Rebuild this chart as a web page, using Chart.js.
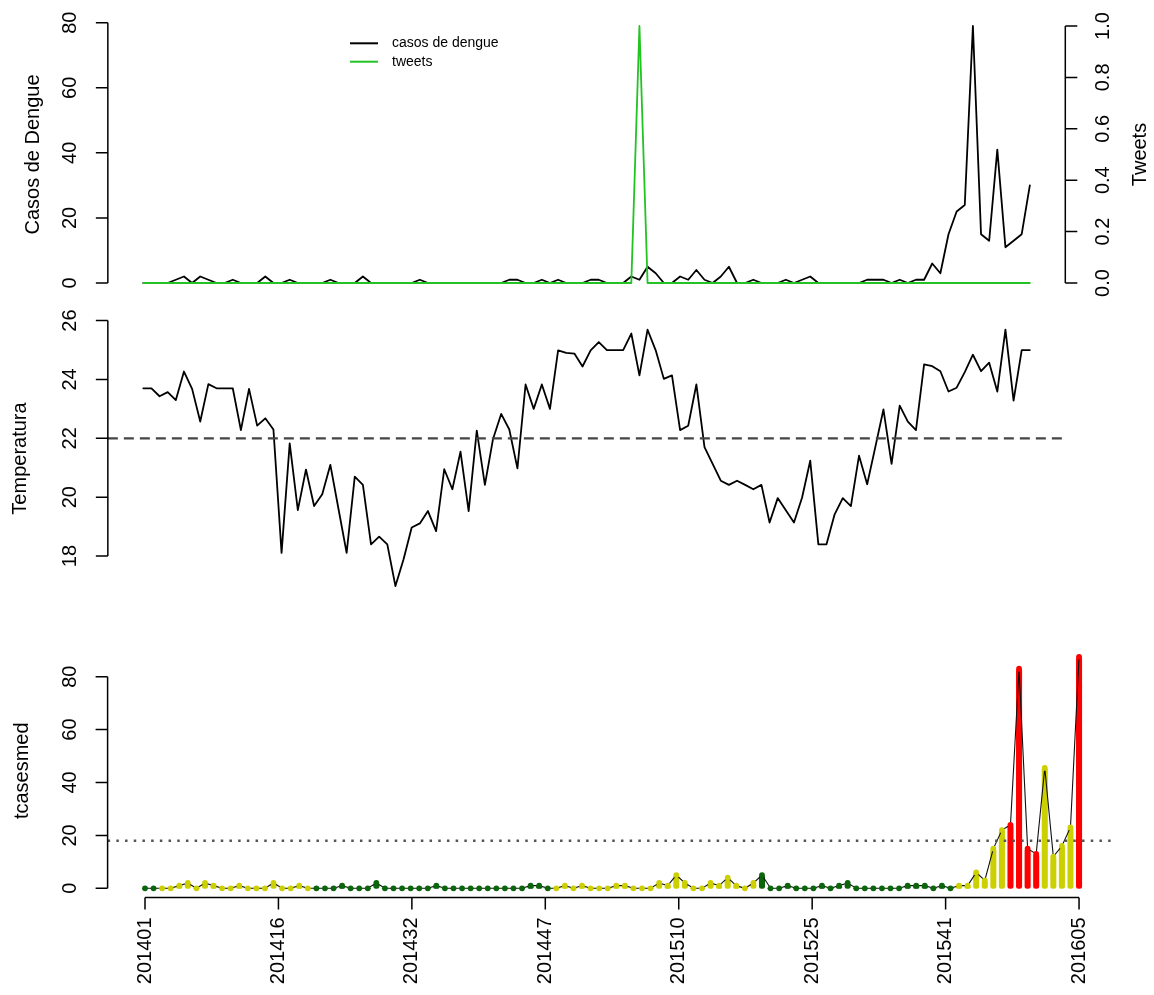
<!DOCTYPE html>
<html>
<head>
<meta charset="utf-8">
<script src="https://cdn.jsdelivr.net/npm/chart.js@4.4.1/dist/chart.umd.min.js"></script>
<style>
html,body{margin:0;padding:0;background:#ffffff;}
#wrap{position:relative;width:1154px;height:995px;overflow:hidden;}
canvas{position:absolute;left:0;top:0;}
</style>
</head>
<body>
<div id="wrap">
<canvas id="c1" width="1154" height="995"></canvas>
<canvas id="c2" width="1154" height="995"></canvas>
<canvas id="c3" width="1154" height="995"></canvas>
</div>
<script>
// ---------------- DATA ----------------
const weeks = [
"201401","201402","201403","201404","201405","201406","201407","201408","201409","201410",
"201411","201412","201413","201414","201415","201416","201417","201418","201419","201420",
"201421","201422","201423","201424","201425","201426","201427","201428","201429","201430",
"201431","201432","201433","201434","201435","201436","201437","201438","201439","201440",
"201441","201442","201443","201444","201445","201446","201447","201448","201449","201450",
"201451","201452","201453",
"201501","201502","201503","201504","201505","201506","201507","201508","201509","201510",
"201511","201512","201513","201514","201515","201516","201517","201518","201519","201520",
"201521","201522","201523","201524","201525","201526","201527","201528","201529","201530",
"201531","201532","201533","201534","201535","201536","201537","201538","201539","201540",
"201541","201542","201543","201544","201545","201546","201547","201548","201549","201550",
"201551","201552",
"201601","201602","201603","201604","201605"];

const casosDengue = [
0,0,0,0,1,2,0,2,1,0,
0,1,0,0,0,2,0,0,1,0,
0,0,0,1,0,0,0,2,0,0,
0,0,0,0,1,0,0,0,0,0,
0,0,0,0,0,1,1,0,0,1,
0,1,0,0,0,1,1,0,0,0,
2,1,5,3,0,0,2,1,4,1,
0,2,5,0,0,1,0,0,0,1,
0,1,2,0,0,0,0,0,0,1,
1,1,0,1,0,1,1,6,3,15,
22,24,79,15,13,41,11,13,15,30];

const tweets = [
0,0,0,0,0,0,0,0,0,0,
0,0,0,0,0,0,0,0,0,0,
0,0,0,0,0,0,0,0,0,0,
0,0,0,0,0,0,0,0,0,0,
0,0,0,0,0,0,0,0,0,0,
0,0,0,0,0,0,0,0,0,0,
0,1,0,0,0,0,0,0,0,0,
0,0,0,0,0,0,0,0,0,0,
0,0,0,0,0,0,0,0,0,0,
0,0,0,0,0,0,0,0,0,0,
0,0,0,0,0,0,0,0,0,0];

const temperatura = [
23.70,23.70,23.43,23.57,23.30,24.27,23.68,22.57,23.84,23.70,
23.70,23.70,22.28,23.68,22.43,22.68,22.30,18.11,21.83,19.56,
20.94,19.70,20.10,21.10,19.60,18.11,20.70,20.42,18.40,18.66,
18.40,16.98,17.89,18.97,19.11,19.53,18.85,20.95,20.27,21.55,
19.53,22.26,20.42,21.98,22.83,22.30,20.98,23.83,23.00,23.83,
23.00,24.99,24.90,24.88,24.44,24.99,25.27,25.00,25.00,25.00,
25.56,24.14,25.69,24.99,24.02,24.14,22.28,22.43,23.83,21.70,
21.13,20.56,20.42,20.56,20.42,20.27,20.42,19.14,19.97,19.56,
19.14,19.99,21.24,18.40,18.40,19.42,19.97,19.70,21.41,20.44,
21.70,22.98,21.13,23.11,22.57,22.28,24.51,24.45,24.28,23.59,
23.72,24.25,24.84,24.28,24.57,23.59,25.69,23.28,25.00,25.00];

const tcasesmed = [
0,0,0,0,1,2,0,2,1,0,
0,1,0,0,0,2,0,0,1,0,
0,0,0,1,0,0,0,2,0,0,
0,0,0,0,1,0,0,0,0,0,
0,0,0,0,0,1,1,0,0,1,
0,1,0,0,0,1,1,0,0,0,
2,1,5,2,0,0,2,1,4,1,
0,2,5,0,0,1,0,0,0,1,
0,1,2,0,0,0,0,0,0,1,
1,1,0,1,0,1,1,6,3,15,
22,24,83,15,13,45.5,12,16,23,87.5];

// alert level per week: 0 = verde, 1 = amarelo, 2 = vermelho
const alertLevel = [
0,0,1,1,1,1,1,1,1,1,
1,1,1,1,1,1,1,1,1,1,
0,0,0,0,0,0,0,0,0,0,
0,0,0,0,0,0,0,0,0,0,
0,0,0,0,0,0,0,0,1,1,
1,1,1,1,1,1,1,1,1,1,
1,1,1,1,1,1,1,1,1,1,
1,1,0,0,0,0,0,0,0,0,
0,0,0,0,0,0,0,0,0,0,
0,0,0,0,0,1,1,1,1,1,
1,2,2,2,2,1,1,1,1,2];

const tempLimiar = 22;
const casosLimiar = 18;

const casosTicks = [0,20,40,60,80];
const tweetsTicks = [0,0.2,0.4,0.6,0.8,1.0];
const tweetsTickLabels = ["0.0","0.2","0.4","0.6","0.8","1.0"];
const tempTicks = [18,20,22,24,26];
const tcasesTicks = [0,20,40,60,80];
const xTickPos = [0,15.571,31.143,46.714,62.286,77.857,93.429,109];
const xTickLabels = ["201401","201416","201432","201447","201510","201525","201541","201605"];

// ---------------- STYLE ----------------
const FONT = '"Liberation Sans", Arial, Helvetica, sans-serif';
const FS = 20;
const AXW = 1.5;
const TICK = 12;
const GREEN = '#22c322';
const LEVEL_COLORS = ['#0b650b', '#cdd000', '#ff0000'];

const pts = arr => arr.map((v, i) => ({x: i, y: v}));

function rotText(ctx, text, x, y, align, size) {
  ctx.save();
  ctx.translate(x, y);
  ctx.rotate(-Math.PI / 2);
  ctx.font = size + 'px ' + FONT;
  ctx.textAlign = align;
  ctx.textBaseline = 'middle';
  ctx.fillStyle = '#000';
  ctx.fillText(text, 0, 0);
  ctx.restore();
}

function yAxisR(chart, scaleId, ticks, labels, side, labelCx, title, titleCx) {
  const ctx = chart.ctx, s = chart.scales[scaleId], a = chart.chartArea;
  const x0 = side === 'left' ? a.left : a.right;
  const dir = side === 'left' ? -1 : 1;
  ctx.save();
  ctx.strokeStyle = '#000';
  ctx.lineWidth = AXW;
  ctx.beginPath();
  ctx.moveTo(x0, s.getPixelForValue(ticks[0]));
  ctx.lineTo(x0, s.getPixelForValue(ticks[ticks.length - 1]));
  ticks.forEach(t => {
    const p = s.getPixelForValue(t);
    ctx.moveTo(x0, p);
    ctx.lineTo(x0 + dir * TICK, p);
  });
  ctx.stroke();
  ticks.forEach((t, k) => rotText(ctx, labels[k], labelCx, s.getPixelForValue(t), 'center', FS));
  rotText(ctx, title, titleCx, (a.top + a.bottom) / 2, 'center', FS);
  ctx.restore();
}

function xAxisR(chart, ticks, labels) {
  const ctx = chart.ctx, s = chart.scales.x, a = chart.chartArea;
  const y0 = a.bottom;
  ctx.save();
  ctx.strokeStyle = '#000';
  ctx.lineWidth = AXW;
  ctx.beginPath();
  ctx.moveTo(s.getPixelForValue(ticks[0]), y0);
  ctx.lineTo(s.getPixelForValue(ticks[ticks.length - 1]), y0);
  ticks.forEach(t => {
    const p = s.getPixelForValue(t);
    ctx.moveTo(p, y0);
    ctx.lineTo(p, y0 + TICK);
  });
  ctx.stroke();
  ticks.forEach((t, k) => rotText(ctx, labels[k], s.getPixelForValue(t), y0 + 20, 'right', FS));
  ctx.restore();
}

const baseOpts = (pad) => ({
  responsive: false,
  animation: false,
  events: [],
  layout: {padding: pad},
  plugins: {legend: {display: false}, tooltip: {enabled: false}, title: {display: false}},
});

const lineDs = (extra) => Object.assign({
  pointRadius: 0,
  tension: 0,
  fill: false,
  borderJoinStyle: 'round',
  borderCapStyle: 'round',
  clip: false
}, extra);

// ---------------- TOP: casos + tweets ----------------
new Chart(document.getElementById('c1'), {
  type: 'line',
  data: {
    datasets: [
      lineDs({label: 'tweets', data: pts(tweets), yAxisID: 'yT', borderColor: GREEN, borderWidth: 1.8, order: 0}),
      lineDs({label: 'casos de dengue', data: pts(casosDengue), yAxisID: 'y', borderColor: '#000', borderWidth: 1.8, order: 1})
    ]
  },
  options: Object.assign(baseOpts({left: 107.84, top: 15.7, right: 88.7, bottom: 701.7}), {
    scales: {
      x: {type: 'linear', display: false, min: -4.36, max: 113.36},
      y: {type: 'linear', display: false, min: -3.16, max: 82.16},
      yT: {type: 'linear', display: false, min: -0.04, max: 1.04, position: 'right'}
    }
  }),
  plugins: [{
    id: 'rAxes1',
    afterDraw(chart) {
      yAxisR(chart, 'y', casosTicks, casosTicks.map(String), 'left', 70, 'Casos de Dengue', 33);
      yAxisR(chart, 'yT', tweetsTicks, tweetsTickLabels, 'right', 1103, 'Tweets', 1140);
      // legend
      const ctx = chart.ctx;
      const items = [['casos de dengue', '#000', 43.3], ['tweets', GREEN, 61.7]];
      ctx.save();
      ctx.font = '14px ' + FONT;
      ctx.textBaseline = 'middle';
      ctx.textAlign = 'left';
      items.forEach(([t, c, y]) => {
        ctx.strokeStyle = c; ctx.lineWidth = 2;
        ctx.beginPath(); ctx.moveTo(350, y); ctx.lineTo(378, y); ctx.stroke();
        ctx.fillStyle = '#000';
        ctx.fillText(t, 392, y);
      });
      ctx.restore();
    }
  }]
});

// ---------------- MIDDLE: temperatura ----------------
new Chart(document.getElementById('c2'), {
  type: 'line',
  data: {
    datasets: [
      lineDs({label: 'limiar', data: [{x: -4.36, y: tempLimiar}, {x: 113.36, y: tempLimiar}], borderColor: '#444', borderWidth: 2.2, borderDash: [10, 6], borderCapStyle: 'butt', order: 0}),
      lineDs({label: 'Temperatura', data: pts(temperatura), borderColor: '#000', borderWidth: 1.8, order: 1})
    ]
  },
  options: Object.assign(baseOpts({left: 107.84, top: 320, right: 88.7, bottom: 398}), {
    scales: {
      x: {type: 'linear', display: false, min: -4.36, max: 113.36},
      y: {type: 'linear', display: false, min: 16.61, max: 26.02}
    }
  }),
  plugins: [{
    id: 'rAxes2',
    afterDraw(chart) {
      yAxisR(chart, 'y', tempTicks, tempTicks.map(String), 'left', 70, 'Temperatura', 20);
    }
  }]
});

// ---------------- BOTTOM: tcasesmed ----------------
const levelColors = alertLevel.map(l => LEVEL_COLORS[l]);
new Chart(document.getElementById('c3'), {
  data: {
    datasets: [
      {type: 'line', label: 'limiar', data: [{x: -4.36, y: casosLimiar}, {x: 113.36, y: casosLimiar}], borderColor: '#555', borderWidth: 2.4, borderDash: [2.5, 6.2], pointRadius: 0, tension: 0, order: 0},
      {type: 'line', label: 'tcasesmed', data: pts(tcasesmed), borderColor: '#111', borderWidth: 1.1, tension: 0,
        pointRadius: 2.9, pointBorderWidth: 0, pointBackgroundColor: levelColors, pointStyle: 'circle', order: 1},
      {type: 'bar', label: 'barras', data: pts(tcasesmed), backgroundColor: levelColors, barThickness: 5.4,
        borderRadius: 2.5, borderSkipped: false, borderWidth: 0, order: 2}
    ]
  },
  options: Object.assign(baseOpts({left: 107.6, top: 644, right: 37.6, bottom: 97.5}), {
    scales: {
      x: {type: 'linear', display: false, min: -4.365, max: 113.36, offset: false},
      y: {type: 'linear', display: false, min: -3.48, max: 92.36}
    }
  }),
  plugins: [{
    id: 'rAxes3',
    afterDraw(chart) {
      yAxisR(chart, 'y', tcasesTicks, tcasesTicks.map(String), 'left', 70, 'tcasesmed', 22);
      xAxisR(chart, xTickPos, xTickLabels);
    }
  }]
});
</script>
</body>
</html>
